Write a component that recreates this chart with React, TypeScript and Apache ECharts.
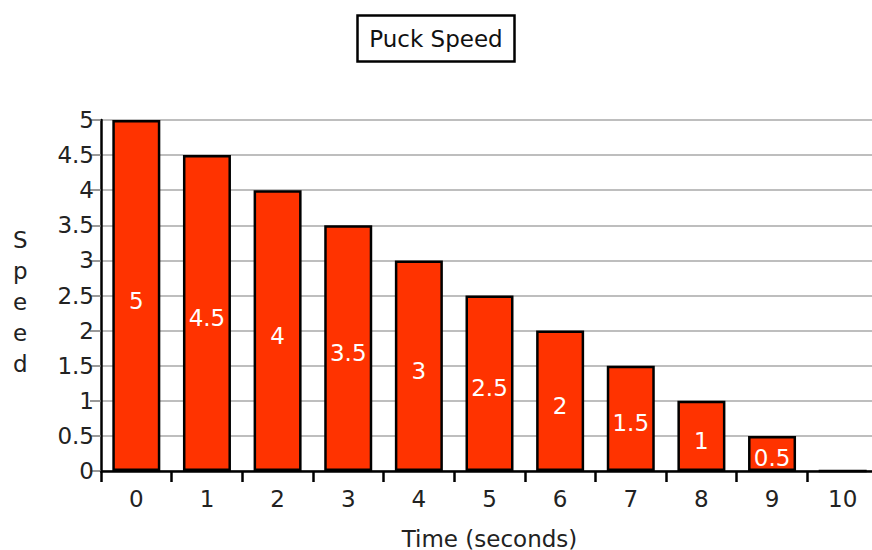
import React, { useEffect, useRef } from "react";
import * as echarts from "echarts";

const categories = ["0", "1", "2", "3", "4", "5", "6", "7", "8", "9", "10"];
const speeds = [5, 4.5, 4, 3.5, 3, 2.5, 2, 1.5, 1, 0.5, 0];
const titleText = "Puck Speed";
const xName = "Time (seconds)";
const yName = "S\np\ne\ne\nd";

const FONT = "DejaVu Sans, Verdana, sans-serif";
const FS = 23;

export default function App() {
  const ref = useRef<HTMLDivElement>(null);
  useEffect(() => {
    if (!ref.current) return;
    const chart = echarts.init(ref.current, undefined, { renderer: "svg" });
    chart.setOption({
      animation: false,
      backgroundColor: "#ffffff",
      title: {
        text: titleText,
        left: "center",
        top: 15,
        borderColor: "#000",
        borderWidth: 2.5,
        padding: [12, 12, 12, 12],
        textStyle: { fontFamily: FONT, fontSize: FS, fontWeight: "normal", color: "#111" },
      },
      graphic: [
        {
          type: "text",
          left: 13,
          top: 224,
          style: {
            text: yName,
            fontFamily: FONT,
            fontSize: FS,
            lineHeight: 31,
            fill: "#222",
            align: "center",
          },
        },
      ],
      grid: { left: 101, top: 120, bottom: 79, right: -6, containLabel: false, outerBoundsMode: "none" },
      xAxis: {
        type: "category",
        data: categories,
        name: xName,
        nameLocation: "middle",
        nameGap: 56,
        nameTextStyle: { fontFamily: FONT, fontSize: FS, color: "#222" },
        axisLine: { show: true, lineStyle: { color: "#000", width: 2.5 } },
        axisTick: { show: true, length: 11, lineStyle: { color: "#000", width: 2.5 } },
        axisLabel: { fontFamily: FONT, fontSize: FS, color: "#222", margin: 16 },
        splitLine: { show: false },
      },
      yAxis: {
        type: "value",
        min: 0,
        max: 5,
        interval: 0.5,
        axisLine: { show: true, lineStyle: { color: "#000", width: 2.5 } },
        axisTick: { show: true, length: 11, lineStyle: { color: "#777", width: 1.5 } },
        axisLabel: { fontFamily: FONT, fontSize: FS, color: "#222", margin: 7 },
        splitLine: { show: true, lineStyle: { color: "#a8a8a8", width: 1.5 } },
      },
      series: [
        {
          type: "bar",
          data: speeds,
          barWidth: 48,
          itemStyle: { color: "#ff3300", borderColor: "#000", borderWidth: 2.5 },
          label: {
            show: true,
            position: "inside",
            offset: [0, 5],
            color: "#fff",
            fontFamily: FONT,
            fontSize: FS,
            formatter: (p: any) => (p.value === 0 ? "" : String(p.value)),
          },
        },
      ],
    });
    return () => chart.dispose();
  }, []);
  return (
    <div
      ref={ref}
      style={{ position: "fixed", left: 0, top: 0, width: 872, height: 550 }}
    />
  );
}
